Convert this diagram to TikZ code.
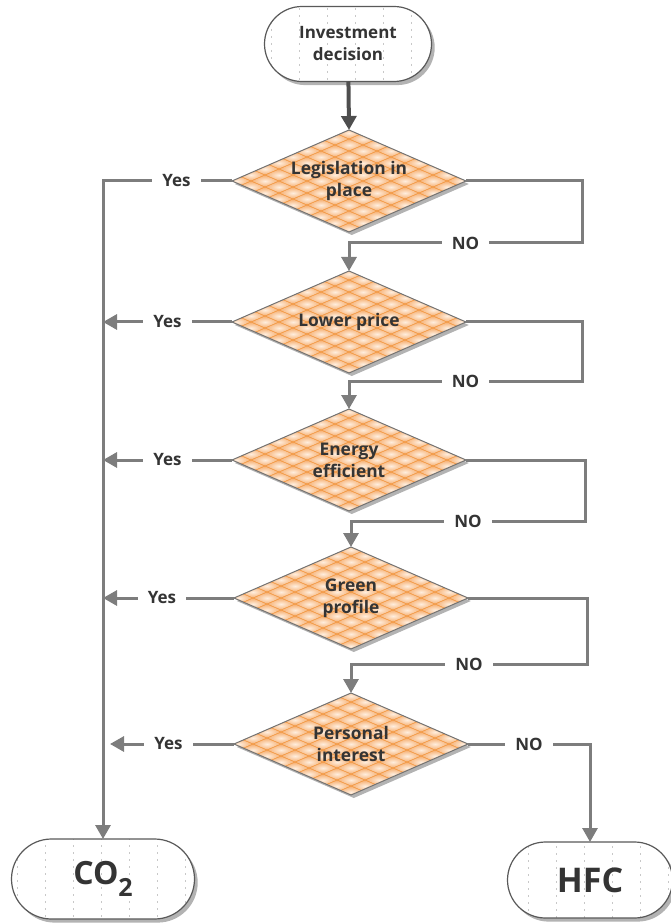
\documentclass[tikz,border=0pt]{standalone}
\usepackage{fontspec}
\setmainfont{Open Sans}
\usetikzlibrary{shapes.geometric, shapes.misc, arrows.meta, positioning, calc, shadows}

\definecolor{lineGray}{RGB}{125,125,125}
\definecolor{darkLine}{RGB}{78,78,78}
\definecolor{txtGray}{RGB}{52,52,52}
\definecolor{checkOrange}{RGB}{242,150,62}
\definecolor{checkLight}{RGB}{246,178,118}
\definecolor{checkCore}{RGB}{255,238,222}
\definecolor{dotGray}{RGB}{200,200,200}

\begin{document}
\begin{tikzpicture}[x=0.5pt, y=-0.5pt,
        terminal/.style={rounded rectangle, draw=black!65, line width=0.6pt, fill=white, text=txtGray, font=\bfseries\fontsize{8.5}{11}\selectfont, align=center, inner sep=0pt, outer sep=0pt,
            drop shadow={shadow xshift=1.6pt, shadow yshift=-1.8pt, opacity=0.6},
            path picture={
                \begin{scope}[shift={(path picture bounding box.center)}]
                    \foreach \c in {-7,...,7}
                        \draw[dotGray, line width=0.4pt, dash pattern=on 1pt off 2.5pt] (28*\c,-60) -- (28*\c,60);
                \end{scope}
            }},
        decision/.style={diamond, aspect=2.3, draw=black!55, line width=0.5pt, fill=checkOrange, text=txtGray, font=\bfseries\fontsize{8.7}{11}\selectfont, align=center, inner sep=0pt, outer sep=0pt,
            minimum width=117pt, minimum height=51pt,
            drop shadow={shadow xshift=1.4pt, shadow yshift=-1.5pt, opacity=0.6},
            path picture={
                \begin{scope}[shift={(path picture bounding box.center)}]
                    \foreach \m in {-9,...,9}
                        \foreach \n in {-9,...,9} {
                            \pgfmathparse{int(mod(\m+\n+20,2))}
                            \ifnum\pgfmathresult=0
                                \shade[inner color=checkCore, outer color=checkLight] (14*\m-13,6*\n) -- (14*\m,6*\n+5.5) -- (14*\m+13,6*\n) -- (14*\m,6*\n-5.5) -- cycle;
                            \fi
                        }
                \end{scope}
            }},
        flow/.style={-{Triangle[width=7.5pt,length=7pt]}, line width=1.5pt, draw=lineGray},
        lbl/.style={fill=white, text=txtGray, font=\bfseries\fontsize{8.5}{10}\selectfont, inner xsep=5pt, inner ysep=1pt}
    ]
        \useasboundingbox (0,0) rectangle (670,924);

        % START
        \node[terminal, minimum width=83.5pt, minimum height=37.5pt] (start) at (348,44) {Investment\\decision};

        % DECISIONS
        \node[decision] (legal) at (349,181) {Legislation in\\place};
        \node[decision] (price) at (349,322) {Lower price};
        \node[decision] (energy) at (349,460) {Energy\\efficient};
        \node[decision] (green) at (351,598) {Green\\profile};
        \node[decision] (personal) at (351,744) {Personal\\interest};

        % OUTCOMES
        \node[terminal, minimum width=91.5pt, minimum height=40pt, font=\bfseries\fontsize{16}{18}\selectfont] (co2) at (103,879) {CO\raisebox{-0.7ex}{\fontsize{12.5}{14}\selectfont 2}};
        \node[terminal, minimum width=82.5pt, minimum height=38pt, font=\bfseries\fontsize{17}{19}\selectfont] (hfc) at (590,880) {HFC};

        % corners of the NO loops
        \coordinate (r1) at (582,243);
        \coordinate (r2) at (582,381);
        \coordinate (r3) at (585,521);
        \coordinate (r4) at (587,664);

        % FLOWS
        \draw[flow, draw=darkLine, line width=2pt] (start) -- (legal.north);

        \draw[flow] (legal.west) -- node[lbl, pos=0.43] {Yes} (legal.west -| co2.north) -- (co2.north);
        \draw[flow] (price.west) -- node[lbl] {Yes} (price.west -| co2.north);
        \draw[flow] (energy.west) -- node[lbl] {Yes} (energy.west -| co2.north);
        \draw[flow] (green.west) -- node[lbl, pos=0.55] {Yes} (green.west -| co2.north);
        \draw[flow, shorten >=3.5pt] (personal.west) -- node[lbl] {Yes} (personal.west -| co2.north);

        \draw[flow] (legal.east) -| (r1) -- node[lbl] {NO} (r1 -| price.north) -- (price.north);
        \draw[flow] (price.east) -| (r2) -- node[lbl] {NO} (r2 -| energy.north) -- (energy.north);
        \draw[flow] (energy.east) -| (r3) -- node[lbl] {NO} (r3 -| green.north) -- (green.north);
        \draw[flow] (green.east) -| (r4) -- node[lbl] {NO} (r4 -| personal.north) -- (personal.north);
        \draw[flow] (personal.east) -- node[lbl] {NO} (personal.east -| hfc.north) -- (hfc.north);

    \end{tikzpicture}
\end{document}
